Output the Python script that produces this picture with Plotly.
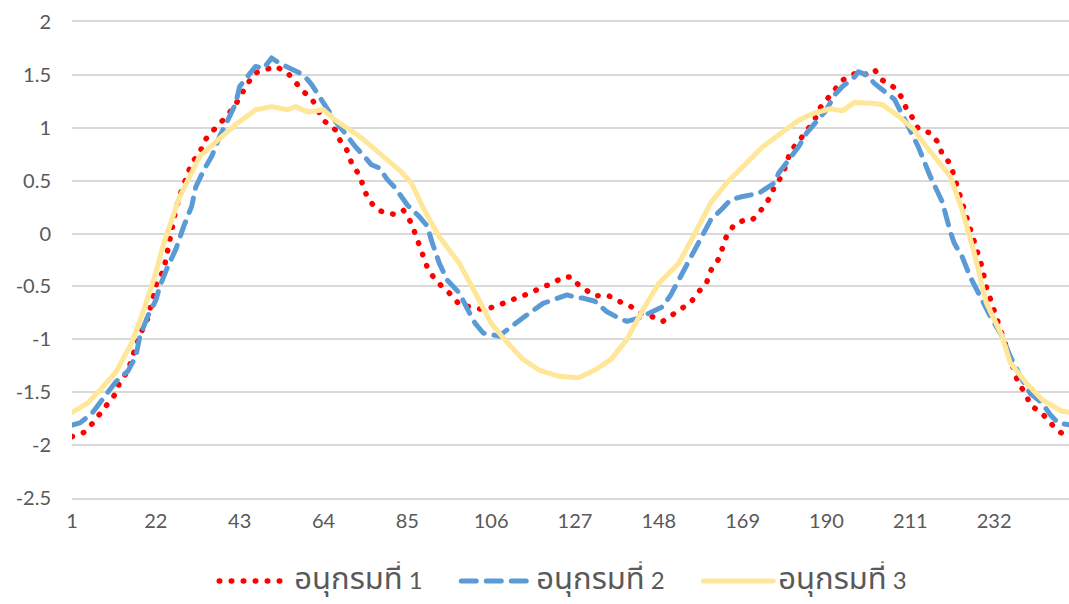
import plotly.graph_objects as go

# Series 1 (red, dotted)
x1 = [1, 4, 6, 8, 10, 12, 13, 15, 16, 18, 20, 21, 22, 24, 25, 26, 27, 28, 29, 30, 31, 33, 34, 36, 40,
      42, 45, 47, 50, 52, 55, 57, 59, 61, 64, 67, 68, 70, 71, 73, 74, 75, 77, 79, 82, 84, 86, 87, 88,
      89, 90, 92, 94, 96, 98, 101, 104, 107, 110, 113, 116, 119, 121, 124, 126, 128, 132, 135, 138,
      141, 143, 146, 149, 151, 154, 156, 158, 160, 161, 163, 164, 165, 167, 169, 171, 172, 174, 176,
      177, 179, 180, 181, 183, 185, 187, 188, 190, 192, 194, 197, 199, 202, 204, 207, 209, 210, 212,
      213, 216, 218, 219, 221, 222, 223, 224, 225, 226, 227, 228, 229, 230, 231, 232, 233, 234, 235,
      236, 237, 238, 240, 241, 244, 246, 248, 251]
s1 = [-1.92, -1.88, -1.80, -1.70, -1.60, -1.51, -1.40, -1.30, -1.18, -0.96, -0.80, -0.63, -0.49, -0.34,
      -0.15, 0.05, 0.22, 0.36, 0.47, 0.55, 0.67, 0.76, 0.87, 0.96, 1.12, 1.22, 1.42, 1.52, 1.55, 1.58,
      1.52, 1.42, 1.34, 1.28, 1.07, 0.98, 0.89, 0.78, 0.67, 0.55, 0.44, 0.34, 0.24, 0.20, 0.18, 0.22,
      0.10, 0.00, -0.11, -0.22, -0.32, -0.44, -0.51, -0.58, -0.67, -0.70, -0.72, -0.69, -0.64, -0.60,
      -0.56, -0.50, -0.48, -0.41, -0.41, -0.49, -0.59, -0.58, -0.64, -0.69, -0.75, -0.78, -0.83, -0.78,
      -0.70, -0.65, -0.55, -0.46, -0.35, -0.24, -0.13, -0.02, 0.09, 0.12, 0.12, 0.15, 0.24, 0.35, 0.45,
      0.55, 0.67, 0.78, 0.87, 0.98, 1.07, 1.17, 1.27, 1.36, 1.45, 1.51, 1.49, 1.55, 1.45, 1.38, 1.28,
      1.18, 1.07, 0.99, 0.95, 0.86, 0.75, 0.66, 0.54, 0.42, 0.31, 0.19, 0.08, -0.04, -0.20, -0.32,
      -0.50, -0.61, -0.72, -0.83, -0.94, -1.05, -1.16, -1.30, -1.41, -1.52, -1.62, -1.70, -1.79, -1.87,
      -1.92]

# Series 2 (blue, dashed)
x2 = [1, 3, 6, 8, 10, 12, 15, 17, 18, 20, 22, 23, 25, 27, 29, 31, 32, 34, 36, 38, 40, 42, 43, 45, 47,
      49, 51, 53, 56, 59, 61, 63, 65, 67, 70, 72, 74, 76, 78, 80, 82, 84, 85, 88, 90, 91, 93, 95, 98,
      100, 102, 104, 108, 110, 113, 116, 119, 123, 125, 128, 129, 132, 135, 138, 140, 143, 146, 149,
      151, 153, 155, 157, 159, 161, 164, 166, 169, 171, 173, 175, 177, 178, 180, 183, 185, 187, 190,
      192, 194, 197, 198, 200, 202, 204, 207, 210, 213, 216, 219, 221, 222, 224, 226, 229, 231, 234,
      236, 239, 241, 244, 246, 248, 251]
s2 = [-1.81, -1.79, -1.70, -1.60, -1.51, -1.40, -1.30, -1.16, -0.97, -0.78, -0.63, -0.50, -0.31, -0.15,
      0.07, 0.26, 0.44, 0.60, 0.73, 0.92, 1.07, 1.23, 1.39, 1.48, 1.58, 1.56, 1.66, 1.61, 1.55, 1.50,
      1.41, 1.29, 1.17, 1.06, 0.92, 0.82, 0.74, 0.65, 0.62, 0.51, 0.43, 0.32, 0.27, 0.16, 0.07, -0.06,
      -0.28, -0.44, -0.56, -0.71, -0.85, -0.94, -0.97, -0.91, -0.82, -0.74, -0.66, -0.61, -0.58, -0.61,
      -0.61, -0.64, -0.74, -0.80, -0.83, -0.80, -0.75, -0.69, -0.58, -0.44, -0.28, -0.14, -0.01, 0.13,
      0.24, 0.32, 0.35, 0.36, 0.38, 0.43, 0.48, 0.57, 0.67, 0.82, 0.95, 1.04, 1.17, 1.31, 1.39, 1.48,
      1.53, 1.50, 1.42, 1.36, 1.27, 1.05, 0.82, 0.54, 0.30, 0.02, -0.09, -0.22, -0.41, -0.63, -0.78,
      -0.97, -1.16, -1.38, -1.51, -1.60, -1.71, -1.79, -1.81]

# Series 3 (yellow, solid)
x3 = [1, 5, 8, 12, 16, 19, 22, 24, 28, 33, 38, 42, 47, 51, 55, 57, 60, 64, 67, 73, 78, 83, 86, 89, 93,
      98, 102, 106, 110, 114, 118, 123, 127, 128, 132, 136, 140, 144, 148, 153, 157, 161, 165, 170,
      174, 179, 183, 187, 191, 194, 197, 202, 204, 208, 212, 213, 217, 221, 224, 227, 230, 234, 236,
      240, 244, 249, 251]
s3 = [-1.69, -1.60, -1.48, -1.31, -1.03, -0.72, -0.37, -0.09, 0.35, 0.73, 0.90, 1.03, 1.17, 1.20, 1.17,
      1.20, 1.15, 1.17, 1.07, 0.92, 0.76, 0.60, 0.48, 0.24, -0.03, -0.28, -0.56, -0.85, -1.03, -1.19,
      -1.29, -1.35, -1.36, -1.36, -1.29, -1.19, -1.00, -0.72, -0.47, -0.28, 0.00, 0.29, 0.48, 0.67,
      0.82, 0.96, 1.07, 1.14, 1.18, 1.16, 1.24, 1.23, 1.22, 1.11, 0.98, 0.92, 0.73, 0.54, 0.22, -0.18,
      -0.65, -0.97, -1.22, -1.41, -1.57, -1.68, -1.69]

series_word = "อนุกรมที่"
series_nums = ["1", "2", "3"]

x_ticks = [1, 22, 43, 64, 85, 106, 127, 148, 169, 190, 211, 232]
y_ticks = [2, 1.5, 1, 0.5, 0, -0.5, -1, -1.5, -2, -2.5]
y_ticktext = ["2", "1.5", "1", "0.5", "0", "-0.5", "-1", "-1.5", "-2", "-2.5"]

FONT = "Lato, 'Noto Sans Thai', Tahoma, 'DejaVu Sans', sans-serif"
GRID = "#d9d9d9"
TICK = "#595959"


def legend_name(num):
    # Thai glyphs from the fallback font run small, so the word gets a larger size
    return (f"<span style='font-size:31px'>{series_word}</span>"
            f"<span style='font-size:24px'> {num}</span>")


fig = go.Figure()
fig.add_trace(go.Scatter(x=x1, y=s1, mode="lines", name=legend_name(series_nums[0]),
                         line=dict(color="#ff0000", width=5.5, dash="0.5px,11.5px")))
fig.add_trace(go.Scatter(x=x2, y=s2, mode="lines", name=legend_name(series_nums[1]),
                         line=dict(color="#5b9bd5", width=5, dash="15px,10px")))
fig.add_trace(go.Scatter(x=x3, y=s3, mode="lines", name=legend_name(series_nums[2]),
                         line=dict(color="#ffe699", width=5)))

fig.update_layout(
    width=1069, height=604,
    margin=dict(l=72, r=0, t=22, b=106),
    paper_bgcolor="white", plot_bgcolor="white",
    font=dict(family=FONT, size=20, color=TICK),
    showlegend=True,
    legend=dict(orientation="h", xref="container", yref="container",
                x=0.540, xanchor="center", y=0.038, yanchor="middle",
                font=dict(size=20, color=TICK), itemwidth=70,
                entrywidth=157, entrywidthmode="pixels",
                traceorder="normal"),
    xaxis=dict(range=[1, 250.75], tickmode="array", tickvals=x_ticks,
               ticktext=[str(v) for v in x_ticks],
               showgrid=False, zeroline=False, showline=True, mirror=True,
               linecolor=GRID, linewidth=1.7, ticks="", ticklabelstandoff=4),
    yaxis=dict(range=[-2.5, 2], tickmode="array", tickvals=y_ticks, ticktext=y_ticktext,
               showgrid=True, gridcolor=GRID, gridwidth=1.7, zeroline=False,
               showline=False, ticks="", ticklabelstandoff=20),
)

# round caps for the dotted and dashed strokes
post = """
var gd = document.getElementById('{plot_id}');
gd.querySelectorAll('path.js-line').forEach(function(p){
  p.style.strokeLinecap = 'round';
  p.style.strokeLinejoin = 'round';
});
"""
fig.write_html("out.html", post_script=post, config={"displayModeBar": False})
